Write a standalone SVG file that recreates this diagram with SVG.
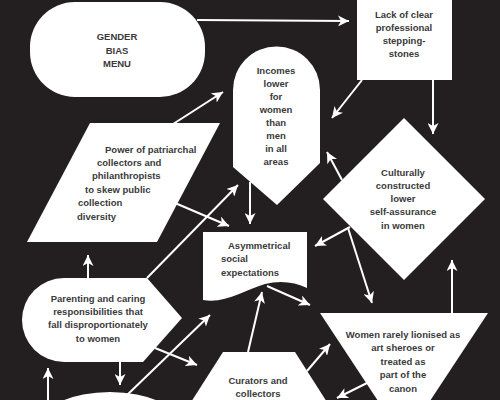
<svg xmlns="http://www.w3.org/2000/svg" width="500" height="400" viewBox="0 0 500 400">
<defs>
<marker id="ah" markerUnits="userSpaceOnUse" markerWidth="12" markerHeight="11" refX="11" refY="5.5" orient="auto">
<path d="M0,0 L11,5.5 L0,11 L3,5.5 Z" fill="#fff"/>
</marker>
</defs>
<style>
.s{fill:#fff;stroke:none}
.t{font-family:"Liberation Sans",Arial,sans-serif;font-weight:bold;font-size:9.5px;fill:#3a3a3a}
.c{text-anchor:middle}
.e line{stroke:#fff;stroke-width:2;marker-end:url(#ah)}
</style>
<rect width="500" height="400" fill="#231f20"/>
<g id="gender">
<rect class="s" x="30" y="2" width="175" height="95" rx="45"/>
<text class="t c" x="117" y="40">GENDER</text>
<text class="t c" x="117" y="53.5">BIAS</text>
<text class="t c" x="117" y="67">MENU</text>
</g>
<g id="lack">
<rect class="s" x="357" y="-5" width="95" height="85"/>
<text class="t c" x="404" y="17.5">Lack of clear</text>
<text class="t c" x="404" y="30.5">professional</text>
<text class="t c" x="404" y="43.5">stepping-</text>
<text class="t c" x="404" y="56.5">stones</text>
</g>
<g id="incomes">
<path class="s" d="M233,90 A43.5,43.5 0 0 1 320,90 V163 L277,205 L233,167 Z"/>
<text class="t c" x="276" y="73.5">Incomes</text>
<text class="t c" x="276" y="86.6">lower</text>
<text class="t c" x="276" y="99.7">for</text>
<text class="t c" x="276" y="112.8">women</text>
<text class="t c" x="276" y="125.9">than</text>
<text class="t c" x="276" y="139">men</text>
<text class="t c" x="276" y="152.1">in all</text>
<text class="t c" x="276" y="165.2">areas</text>
</g>
<g id="power">
<polygon class="s" points="90,123 220,123 157,242 27,242"/>
<text class="t" x="105" y="152.5">Power of patriarchal</text>
<text class="t" x="97" y="166">collectors and</text>
<text class="t" x="92" y="179.3">philanthropists</text>
<text class="t" x="85" y="192.7">to skew public</text>
<text class="t" x="78" y="206">collection</text>
<text class="t" x="77" y="219.5">diversity</text>
</g>
<g id="culturally">
<polygon class="s" points="404,118 485,199 404,280 323,199"/>
<text class="t c" x="403" y="175.5">Culturally</text>
<text class="t c" x="403" y="188.8">constructed</text>
<text class="t c" x="403" y="202.1">lower</text>
<text class="t c" x="403" y="215.4">self-assurance</text>
<text class="t c" x="403" y="228.7">in women</text>
</g>
<g id="asymmetrical">
<path class="s" d="M203,232 H307 V288 C295,282 280,280 265,284 C245,290 225,304 203,300 Z"/>
<text class="t" x="228" y="248.5">Asymmetrical</text>
<text class="t" x="221" y="262">social</text>
<text class="t" x="221" y="275.5">expectations</text>
</g>
<g id="parenting">
<path class="s" d="M64,278 H147 L182,318 L143,362 H64 A42,42 0 0 1 64,278 Z"/>
<text class="t c" x="98" y="301.5">Parenting and caring</text>
<text class="t c" x="98" y="314.9">responsibilities that</text>
<text class="t c" x="98" y="328.3">fall disproportionately</text>
<text class="t c" x="98" y="341.7">to women</text>
</g>
<g id="women">
<path class="s" d="M320,313 H488 L424,410 H384 Z"/>
<text class="t c" x="403" y="337.5">Women rarely lionised as</text>
<text class="t c" x="403" y="351">art sheroes or</text>
<text class="t c" x="403" y="364.5">treated as</text>
<text class="t c" x="403" y="378">part of the</text>
<text class="t c" x="403" y="391.5">canon</text>
</g>
<g id="curators">
<path class="s" d="M223,352 H295 L332,410 H186 Z"/>
<text class="t c" x="258" y="383.5">Curators and</text>
<text class="t c" x="258" y="396.5">collectors</text>
</g>
<g id="bottom">
<ellipse class="s" cx="110" cy="425" rx="70" ry="33"/>
</g>
<g id="connectors" class="e">
<line x1="197" y1="20" x2="349" y2="21"/>
<line x1="362" y1="80" x2="332" y2="118"/>
<line x1="433" y1="80" x2="433" y2="134"/>
<line x1="170" y1="126" x2="223" y2="92"/>
<line x1="342" y1="180" x2="327" y2="152"/>
<line x1="350" y1="227" x2="315" y2="246"/>
<line x1="348" y1="228" x2="372" y2="303"/>
<line x1="452" y1="313" x2="452" y2="260"/>
<line x1="250" y1="182" x2="250" y2="224"/>
<line x1="175" y1="203" x2="229" y2="226"/>
<line x1="147" y1="278" x2="238" y2="185"/>
<line x1="88" y1="278" x2="88" y2="255"/>
<line x1="120" y1="362" x2="120" y2="385"/>
<line x1="155" y1="348" x2="197" y2="365"/>
<line x1="125" y1="397" x2="210" y2="315"/>
<line x1="48" y1="402" x2="48" y2="368"/>
<line x1="248" y1="352" x2="262" y2="292"/>
<line x1="307" y1="371" x2="330" y2="344"/>
<line x1="267" y1="286" x2="310" y2="305"/>
<line x1="367" y1="383" x2="337" y2="398"/>
</g>
</svg>
